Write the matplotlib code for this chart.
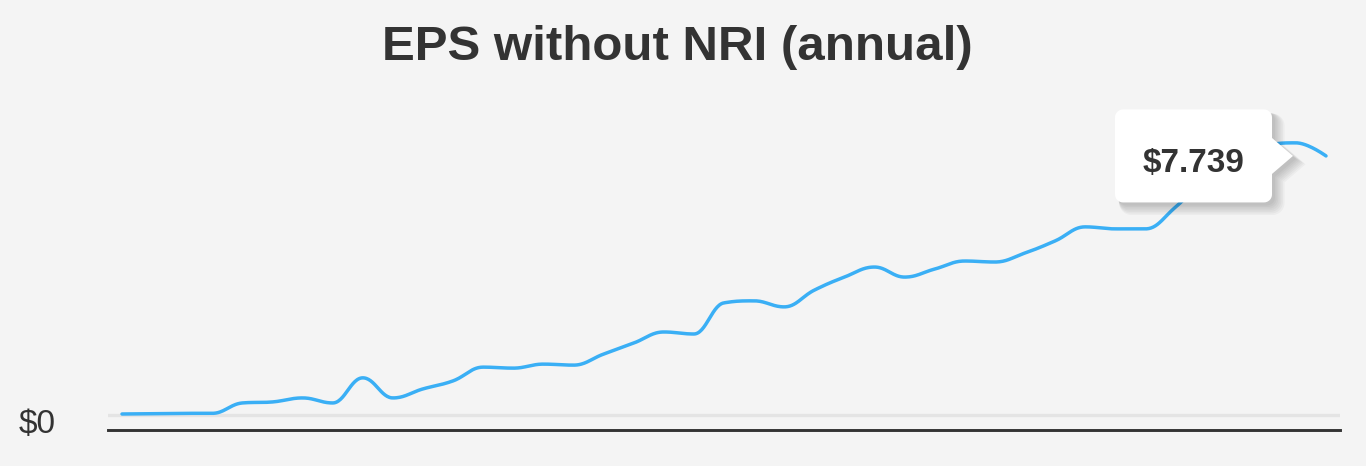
import numpy as np
import matplotlib
matplotlib.use("Agg")
import matplotlib.pyplot as plt
from matplotlib.patches import Polygon
from matplotlib.transforms import IdentityTransform, ScaledTranslation

plt.rcParams['font.family'] = ['Liberation Sans', 'DejaVu Sans']

# annual EPS without NRI
years = [1985, 1986, 1987, 1988, 1989, 1990, 1991, 1992, 1993, 1994,
         1995, 1996, 1997, 1998, 1999, 2000, 2001, 2002, 2003, 2004,
         2005, 2006, 2007, 2008, 2009, 2010, 2011, 2012, 2013, 2014,
         2015, 2016, 2017, 2018, 2019, 2020, 2021, 2022, 2023, 2024, 2025]
eps = [0.03, 0.04, 0.05, 0.05, 0.36, 0.39, 0.51, 0.36, 1.11, 0.51,
       0.78, 1.02, 1.43, 1.40, 1.52, 1.49, 1.82, 2.15, 2.48, 2.42,
       3.35, 3.41, 3.23, 3.73, 4.12, 4.42, 4.12, 4.36, 4.60, 4.57,
       4.84, 5.20, 5.62, 5.56, 5.56, 6.21, 7.08, 7.62, 8.04, 8.13, 7.739]
title = "EPS without NRI (annual)"
ytick_vals = [0]
ytick_labels = [r"\$0"]

bg = '#f4f4f4'
dark = '#333333'
blue = '#3aaff5'


# highcharts-like spline (smoothing 1.5)
def spline(xs, ys, smoothing=1.5, steps=30):
    n = len(xs)
    denom = smoothing + 1
    lc = [(xs[i], ys[i]) for i in range(n)]
    rc = [(xs[i], ys[i]) for i in range(n)]
    for i in range(1, n - 1):
        x, y = xs[i], ys[i]
        lx, ly = xs[i - 1], ys[i - 1]
        nx, ny = xs[i + 1], ys[i + 1]
        lcx = (smoothing * x + lx) / denom
        lcy = (smoothing * y + ly) / denom
        rcx = (smoothing * x + nx) / denom
        rcy = (smoothing * y + ny) / denom
        corr = (rcy - lcy) * (rcx - x) / (rcx - lcx) + y - rcy
        lcy += corr
        rcy += corr
        if lcy > ly and lcy > y:
            lcy = max(ly, y); rcy = 2 * y - lcy
        elif lcy < ly and lcy < y:
            lcy = min(ly, y); rcy = 2 * y - lcy
        if rcy > ny and rcy > y:
            rcy = max(ny, y); lcy = 2 * y - rcy
        elif rcy < ny and rcy < y:
            rcy = min(ny, y); lcy = 2 * y - rcy
        lc[i] = (lcx, lcy)
        rc[i] = (rcx, rcy)
    t = np.linspace(0, 1, steps)[:, None]
    out = []
    for i in range(n - 1):
        p0 = np.array([xs[i], ys[i]])
        p1 = np.array(rc[i])
        p2 = np.array(lc[i + 1])
        p3 = np.array([xs[i + 1], ys[i + 1]])
        seg = ((1 - t) ** 3) * p0 + 3 * ((1 - t) ** 2) * t * p1 + 3 * (1 - t) * t ** 2 * p2 + t ** 3 * p3
        out.append(seg if i == 0 else seg[1:])
    out = np.vstack(out)
    return out[:, 0], out[:, 1]


fig = plt.figure(figsize=(13.66, 4.66), dpi=100, facecolor=bg)
ax = fig.add_axes([108 / 1366, 36 / 466, 1232 / 1366, 330 / 466])
ax.set_facecolor(bg)

sx, sy = spline(years, eps)
ax.axhline(0, color='#e4e4e4', lw=2.4, zorder=1)
ax.plot(sx, sy, color=blue, lw=2.5, solid_capstyle='round', zorder=3)

ax.set_xlim(years[0] - 0.465, years[-1] + 0.465)
ax.set_ylim(-0.448, 9.41)

for s in ['top', 'right', 'left']:
    ax.spines[s].set_visible(False)
ax.spines['bottom'].set_color(dark)
ax.spines['bottom'].set_linewidth(2.1)
ax.set_xticks([])
ax.set_yticks(ytick_vals)
ax.set_yticklabels(ytick_labels, fontsize=24, color=dark)
ax.tick_params(axis='y', length=0, pad=38)
for lab in ax.get_yticklabels():
    lab.set_transform(lab.get_transform() + ScaledTranslation(0, -0.06, fig.dpi_scale_trans))

fig.text(677.5 / 1366, (466 - 60) / 466, title, ha='center', va='baseline',
         fontsize=35.5, fontweight='bold', color=dark)

# tooltip for the last point
fig.canvas.draw()
axp, ayp = ax.transData.transform((years[-1], eps[-1]))
bw, bh, r = 157, 93, 8
x1 = axp - 54
x0 = x1 - bw
y0 = ayp - bh / 2
y1 = y0 + bh
tipx, half = axp - 33, 18


def callout(dx=0.0, dy=0.0, grow=0.0):
    def arc(cx, cy, a0, a1):
        a = np.radians(np.linspace(a0, a1, 10))
        rr = r + grow
        return list(zip(cx + rr * np.cos(a) + dx, cy + rr * np.sin(a) + dy))
    pts = []
    pts += arc(x0 + r, y0 + r, 180, 270)
    pts += arc(x1 - r, y0 + r, 270, 360)
    pts += [(x1 + grow + dx, ayp - half + dy), (tipx + grow + dx, ayp + dy),
            (x1 + grow + dx, ayp + half + dy)]
    pts += arc(x1 - r, y1 - r, 0, 90)
    pts += arc(x0 + r, y1 - r, 90, 180)
    return pts


for k in range(7):
    sh = Polygon(callout(3 + k * 0.9, -3 - k * 0.9, grow=k * 0.7), closed=True,
                 facecolor='black', edgecolor='none', alpha=0.03,
                 transform=IdentityTransform(), zorder=5)
    fig.add_artist(sh)
box = Polygon(callout(), closed=True, facecolor='white', edgecolor='none',
              transform=IdentityTransform(), zorder=6)
fig.add_artist(box)
fig.text((x0 + x1) / 2 / 1366, (ayp - 16) / 466, "$%.3f" % eps[-1], ha='center',
         va='baseline', fontsize=24, fontweight='bold', color=dark, zorder=7)

fig.savefig('out.png', dpi=100, facecolor=bg)
